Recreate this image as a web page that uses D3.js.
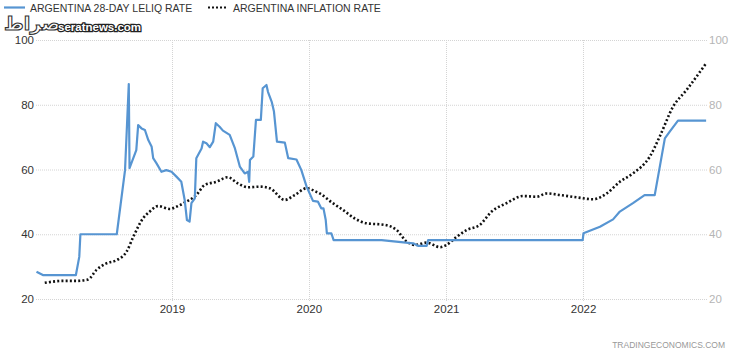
<!DOCTYPE html>
<html>
<head>
<meta charset="utf-8">
<script src="https://cdn.jsdelivr.net/npm/d3@7"></script>
<style>
  body { margin: 0; background: #fff; }
  svg { font-family: "Liberation Sans", Arial, sans-serif; }
</style>
</head>
<body>
<div id="chart"></div>
<script>
var w = 730;
var h = 353;

// series names
var seriesNames = ["ARGENTINA 28-DAY LELIQ RATE", "ARGENTINA INFLATION RATE"];

// LELIQ rate
var leliqDates = ["2018-01-05","2018-01-22","2018-04-20","2018-04-29","2018-05-02","2018-08-07","2018-08-29","2018-09-08","2018-09-10","2018-09-28",
  "2018-10-03","2018-10-12","2018-10-21","2018-10-30","2018-11-08","2018-11-12","2018-11-21","2018-12-04","2018-12-17","2018-12-31",
  "2019-01-13","2019-01-26","2019-02-04","2019-02-10","2019-02-17","2019-02-22","2019-03-03","2019-03-07","2019-03-21","2019-03-25",
  "2019-04-03","2019-04-12","2019-04-21","2019-04-28","2019-05-08","2019-05-17","2019-06-04","2019-06-18","2019-07-01","2019-07-14",
  "2019-07-23","2019-07-26","2019-07-28","2019-08-06","2019-08-13","2019-08-26","2019-08-31","2019-09-10","2019-09-14","2019-09-24",
  "2019-09-30","2019-10-08","2019-10-29","2019-11-07","2019-11-29","2019-12-12","2019-12-26","2020-01-12","2020-01-25","2020-02-03",
  "2020-02-09","2020-02-15","2020-02-18","2020-03-01","2020-03-07","2020-07-13","2020-10-05","2020-10-19","2020-11-10","2020-11-14",
  "2021-12-31","2022-01-02","2022-02-15","2022-03-22","2022-04-09","2022-05-14","2022-06-14","2022-07-11","2022-08-07","2022-08-20",
  "2022-09-11","2022-11-25"];
var leliqValues = [28.4,27.4,27.4,33,40,40,59.8,86.4,60.4,66,
  73.7,72.7,72.2,69.1,67,63.5,61.9,59.3,59.8,59.3,
  57.8,56.2,50.6,44.4,43.9,49.6,51.1,63.5,66.5,68.6,
  68.1,66.9,68.6,74.3,73.2,72,70.7,66.5,60.9,58.8,
  59.3,56.2,62.9,64,75.3,75.3,85.1,86.1,84,80.9,
  77.9,68.6,68.3,63.5,63.1,59.8,54.7,50.3,50.1,48,
  48,44.4,40.3,40.3,38.2,38.2,37.2,36.4,36.4,38.2,
  38.2,40.3,42.3,44.6,47,49.6,52.1,52.1,69.6,71.7,
  75.1,75.1];

// inflation rate
var inflDates = ["2018-01-27","2018-03-17","2018-04-21","2018-05-22","2018-06-14","2018-07-10","2018-08-07","2018-09-02","2018-09-20","2018-10-16",
  "2018-11-03","2018-11-25","2018-12-27","2019-01-13","2019-02-09","2019-03-07","2019-03-29","2019-04-29","2019-05-30","2019-06-26",
  "2019-07-23","2019-08-23","2019-09-19","2019-10-29","2019-11-24","2019-12-26","2020-01-21","2020-01-30","2020-03-05","2020-04-01",
  "2020-05-02","2020-06-02","2020-07-21","2020-08-22","2020-09-18","2020-10-10","2020-11-10","2020-12-16","2021-01-02","2021-01-29",
  "2021-02-25","2021-04-01","2021-05-02","2021-06-11","2021-07-25","2021-08-30","2021-09-26","2021-11-01","2021-12-15","2022-01-28",
  "2022-03-05","2022-04-09","2022-05-14","2022-06-28","2022-07-24","2022-08-29","2022-10-04","2022-11-25"];
var inflValues = [25,25.6,25.6,26,29,31,32,34.6,39.2,44.9,
  47,48.7,47.8,48.5,50.1,52.1,55.2,56.2,57.6,55.7,
  54.5,54.7,54.2,50.6,52.1,54.2,53.1,52.6,49.6,47.5,
  44.9,43.4,42.9,41.3,37.7,36.7,37.4,36,36.7,39.2,
  41.3,42.9,47,49.6,51.8,51.6,52.6,52.1,51.4,50.8,
  52.6,56.2,58.8,64,70.1,79.4,84.6,92.8];

var yTicks = [20, 40, 60, 80, 100];
var xTicks = ["2019-01-01", "2020-01-01", "2021-01-01", "2022-01-01"];

var parseDate = d3.timeParse("%Y-%m-%d");
var formatYear = d3.timeFormat("%Y");

var leliq = leliqDates.map((d, i) => ({date: parseDate(d), value: leliqValues[i]}));
var infl = inflDates.map((d, i) => ({date: parseDate(d), value: inflValues[i]}));

var svg = d3.select("#chart")
            .append("svg")
            .attr("width", w)
            .attr("height", h);

// scales
const xScale = d3.scaleTime()
    .domain([parseDate("2018-01-01"), parseDate("2023-01-01")])
    .range([35, 720]);
const yScale = d3.scaleLinear()
    .domain([20, 100])
    .range([299, 40]);

// grid
svg.append("g")
    .selectAll("line")
    .data(yTicks)
    .enter()
    .append("line")
    .attr("x1", 36).attr("x2", 707)
    .attr("y1", d => yScale(d) + 0.5).attr("y2", d => yScale(d) + 0.5)
    .attr("stroke", "#d4d4d4")
    .attr("stroke-dasharray", "1,1");
svg.append("g")
    .selectAll("line")
    .data(xTicks.map(parseDate))
    .enter()
    .append("line")
    .attr("x1", d => Math.round(xScale(d)) + 0.5).attr("x2", d => Math.round(xScale(d)) + 0.5)
    .attr("y1", 40).attr("y2", 301)
    .attr("stroke", "#d4d4d4")
    .attr("stroke-dasharray", "1,1");

// AXES
const yAxisLeft = d3.axisLeft(yScale).tickValues(yTicks).tickSize(0).tickPadding(0);
const yAxisRight = d3.axisRight(yScale).tickValues(yTicks).tickSize(0).tickPadding(0);
const xAxis = d3.axisBottom(xScale).tickValues(xTicks.map(parseDate)).tickFormat(formatYear).tickSize(0).tickPadding(0);

svg.append("g")
    .attr("transform", "translate(34, 0)")
    .call(yAxisLeft)
    .call(g => g.select(".domain").remove())
    .selectAll("text")
    .attr("fill", "#333")
    .attr("font-size", "11.5px");
svg.append("g")
    .attr("transform", "translate(709, 0)")
    .call(yAxisRight)
    .call(g => g.select(".domain").remove())
    .selectAll("text")
    .attr("fill", "#b5b5b5")
    .attr("font-size", "11.5px");
svg.append("g")
    .attr("transform", "translate(0, 305)")
    .call(xAxis)
    .call(g => g.select(".domain").remove())
    .selectAll("text")
    .attr("fill", "#333")
    .attr("font-size", "11.5px");

// LINES
const line = d3.line()
    .x(d => xScale(d.date))
    .y(d => yScale(d.value));

svg.append("path")
    .datum(infl)
    .attr("fill", "none")
    .attr("stroke", "#111")
    .attr("stroke-width", 2.6)
    .attr("stroke-dasharray", "2,2.2")
    .attr("d", d3.line().x(d => xScale(d.date)).y(d => yScale(d.value)).curve(d3.curveMonotoneX));

svg.append("path")
    .datum(leliq)
    .attr("fill", "none")
    .attr("stroke", "#5795d2")
    .attr("stroke-width", 2.2)
    .attr("stroke-linejoin", "round")
    .attr("d", line);

// legend
svg.append("line")
    .attr("x1", 4).attr("x2", 25).attr("y1", 7.5).attr("y2", 7.5)
    .attr("stroke", "#5795d2").attr("stroke-width", 2.2);
svg.append("text")
    .attr("x", 30).attr("y", 12)
    .attr("font-size", "10.5px").attr("fill", "#333")
    .text(seriesNames[0]);
svg.append("line")
    .attr("x1", 208).attr("x2", 227).attr("y1", 7.5).attr("y2", 7.5)
    .attr("stroke", "#111").attr("stroke-width", 2.2)
    .attr("stroke-dasharray", "2,2");
svg.append("text")
    .attr("x", 233).attr("y", 12)
    .attr("font-size", "10.5px").attr("fill", "#333")
    .text(seriesNames[1]);

// watermarks
svg.append("text")
    .attr("x", 4).attr("y", 30)
    .attr("font-size", "19px")
    .attr("font-family", "DejaVu Sans")
    .attr("font-weight", "bold")
    .attr("fill", "#fff")
    .attr("stroke", "#333")
    .attr("stroke-width", 1.1)
    .text("صراط");
svg.append("text")
    .attr("x", 58).attr("y", 31)
    .attr("font-size", "11.5px")
    .attr("font-weight", "bold")
    .attr("fill", "#fff")
    .attr("stroke", "#222")
    .attr("stroke-width", 2.5)
    .attr("paint-order", "stroke")
    .text("seratnews.com");

svg.append("text")
    .attr("x", 725).attr("y", 348)
    .attr("text-anchor", "end")
    .attr("font-size", "8.5px")
    .attr("fill", "#999")
    .text("TRADINGECONOMICS.COM");
</script>
</body>
</html>
